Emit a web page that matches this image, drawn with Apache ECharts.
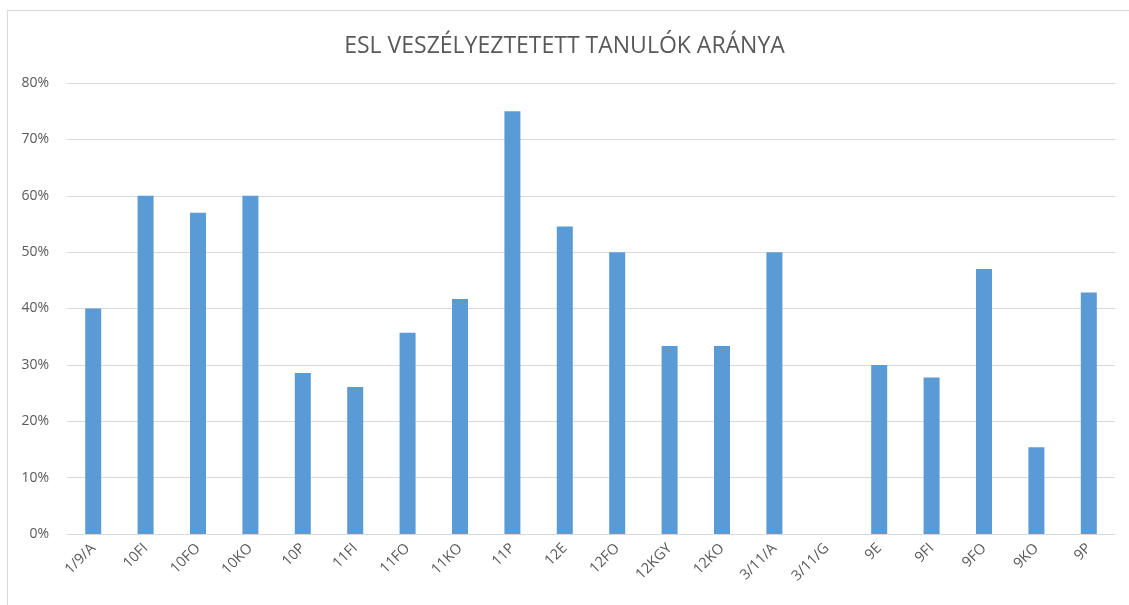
<html>
<head>
<meta charset="utf-8">
<script src="https://cdn.jsdelivr.net/npm/echarts@6/dist/echarts.min.js"></script>
<style>
  body { margin: 0; background: #fff; }
  #frame { position: absolute; left: 7px; top: 10px; width: 1125px; height: 600px; border: 1px solid #d9d9d9; box-sizing: border-box; }
  #main { position: absolute; left: 0; top: 0; width: 1129px; height: 605px; }
</style>
</head>
<body>
<div id="frame"></div>
<div id="main"></div>
<script type="text/javascript">
// osztályok
var categories = ['1/9/A', '10FI', '10FO', '10KO', '10P', '11FI', '11FO', '11KO', '11P', '12E',
    '12FO', '12KGY', '12KO', '3/11/A', '3/11/G', '9E', '9FI', '9FO', '9KO', '9P'];
// arány (0..1)
var ratios = [0.40, 0.60, 0.57, 0.60, 0.2857, 0.2609, 0.3571, 0.4167, 0.75, 0.5455,
    0.50, 0.3333, 0.3333, 0.50, 0, 0.30, 0.2778, 0.47, 0.1538, 0.4286];
var yTicks = [0, 0.1, 0.2, 0.3, 0.4, 0.5, 0.6, 0.7, 0.8];

var myChart = echarts.init(document.getElementById('main'));
var option = {
    animation: false,
    title: {
        text: 'ESL VESZÉLYEZTETETT TANULÓK ARÁNYA',
        left: 'center',
        top: 30,
        textStyle: { fontFamily: 'Open Sans', fontSize: 23, fontWeight: 'normal', color: '#595959' }
    },
    grid: { left: 67, right: 14, top: 83, bottom: 71 },
    xAxis: {
        type: 'category',
        data: categories,
        axisLine: { lineStyle: { color: '#d9d9d9' } },
        axisTick: { show: false },
        axisLabel: { rotate: 45, interval: 0, margin: 12, color: '#595959', fontFamily: 'Open Sans', fontSize: 14.5 }
    },
    yAxis: {
        type: 'value',
        min: yTicks[0],
        max: yTicks[yTicks.length - 1],
        interval: 0.1,
        axisLine: { show: false },
        axisTick: { show: false },
        splitLine: { lineStyle: { color: '#d9d9d9' } },
        axisLabel: {
            margin: 18, color: '#595959', fontFamily: 'Open Sans', fontSize: 14,
            formatter: function (v) { return Math.round(v * 100) + '%'; }
        }
    },
    series: [{
        type: 'bar',
        data: ratios,
        barWidth: 16,
        itemStyle: { color: '#5b9bd5' }
    }]
};
myChart.setOption(option);
</script>
</body>
</html>
